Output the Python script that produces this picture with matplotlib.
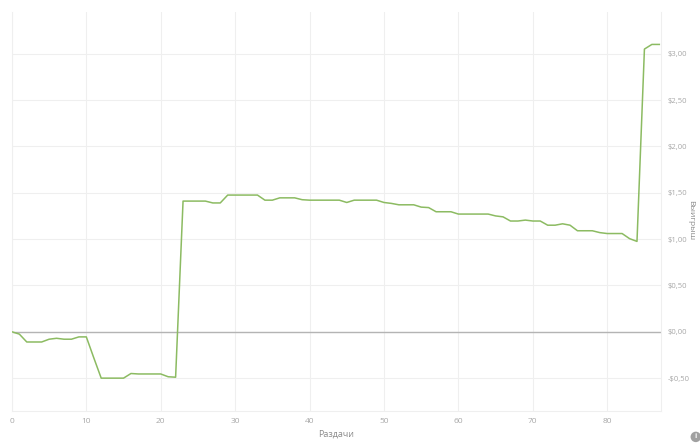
import matplotlib.pyplot as plt
from matplotlib.ticker import FuncFormatter

# cumulative winnings per hand
hands = list(range(88))
winnings = [
    0.0, -0.025, -0.11, -0.11, -0.11, -0.08, -0.07, -0.08, -0.08, -0.055,
    -0.055, -0.28, -0.50, -0.50, -0.50, -0.50, -0.45, -0.455, -0.455, -0.455,
    -0.455, -0.485, -0.49, 1.41, 1.41, 1.41, 1.41, 1.39, 1.39, 1.475,
    1.475, 1.475, 1.475, 1.475, 1.42, 1.42, 1.445, 1.445, 1.445, 1.425,
    1.42, 1.42, 1.42, 1.42, 1.42, 1.395, 1.42, 1.42, 1.42, 1.42,
    1.395, 1.385, 1.37, 1.37, 1.37, 1.345, 1.34, 1.295, 1.295, 1.295,
    1.27, 1.27, 1.27, 1.27, 1.27, 1.25, 1.24, 1.195, 1.195, 1.205,
    1.195, 1.195, 1.15, 1.15, 1.165, 1.15, 1.09, 1.09, 1.09, 1.07,
    1.06, 1.06, 1.06, 1.005, 0.975, 3.05, 3.10, 3.10,
]
x_ticks = [0, 10, 20, 30, 40, 50, 60, 70, 80]
y_ticks = [-0.5, 0.0, 0.5, 1.0, 1.5, 2.0, 2.5, 3.0]

plt.rcParams['font.family'] = ['Open Sans', 'DejaVu Sans']

GRID = '#efefef'
TEXT = '#a8a8a8'
LINE = '#8cbb62'

fig = plt.figure(figsize=(7, 4.44), dpi=100)
ax = fig.add_axes([0.017, 0.074, 0.927, 0.899])
ax.set_axisbelow(True)

ax.axhline(0, color='#b4b4b4', lw=1.0, zorder=2)
ax.plot(hands, winnings, color=LINE, lw=1.1, zorder=3)

ax.set_xlim(0, 87.2)
ax.set_ylim(-0.856, 3.45)
ax.set_xticks(x_ticks)
ax.set_yticks(y_ticks)

def money(v, pos):
    s = f"${abs(v):.2f}".replace('.', ',')
    return '-' + s if v < 0 else s

ax.yaxis.set_major_formatter(FuncFormatter(money))
ax.yaxis.tick_right()
ax.tick_params(length=0, labelsize=5.5, labelcolor=TEXT)
ax.tick_params(axis='y', pad=5)
ax.tick_params(axis='x', pad=5, labelsize=6)
ax.grid(True, color=GRID, lw=0.8)

ax.spines['top'].set_visible(False)
for side in ['left', 'right', 'bottom']:
    ax.spines[side].set_color(GRID)
    ax.spines[side].set_linewidth(0.8)

# axis titles
fig.text(0.48, 0.022, 'Раздачи', fontsize=6.5, color='#8a8a8a', ha='center', va='center')
fig.text(0.987, 0.505, 'Выигрыш', fontsize=6, color='#8a8a8a', rotation=270,
         ha='center', va='center')

# small info mark at bottom right
fig.text(0.994, 0.016, 'i', fontsize=5, color='white', ha='center', va='center',
         fontweight='bold',
         bbox=dict(boxstyle='circle,pad=0.25', fc='#a0a0a0', ec='none'))

plt.savefig('out.png', dpi=100)
